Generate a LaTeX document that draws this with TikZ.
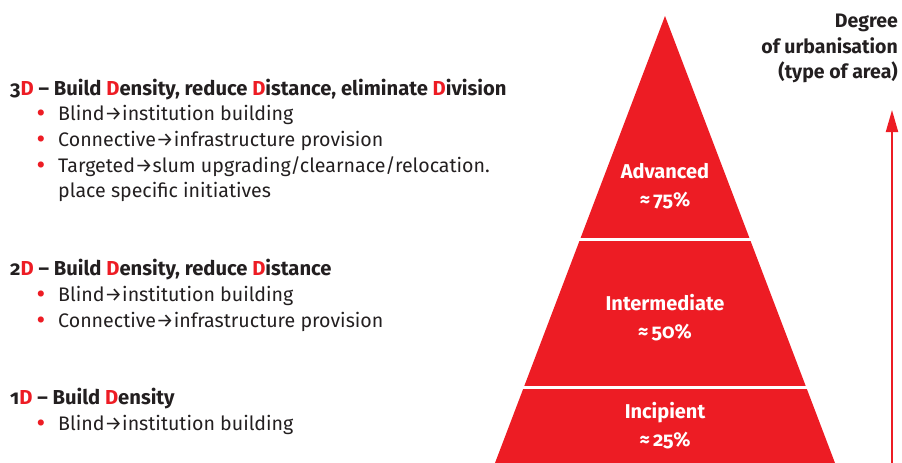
\documentclass[tikz,border=0pt]{standalone}
\usepackage{fontspec}
\setmainfont{Fira Sans}[Numbers=OldStyle]
\usetikzlibrary{arrows.meta}
\definecolor{pred}{HTML}{ED1C24}
\definecolor{ink}{HTML}{231F20}
\newcommand{\RD}{\textcolor{pred}{D}}
\begin{document}
\begin{tikzpicture}[x=1pt,y=-1pt,
  head/.style={anchor=base west, font=\fontsize{20.2}{24}\selectfont\bfseries, text=ink, inner sep=0},
  item/.style={anchor=base west, font=\fontsize{19.6}{24}\selectfont, text=ink, inner sep=0},
  bul/.style={anchor=base west, font=\fontsize{22}{24}\selectfont\bfseries, text=pred, inner sep=0},
  lvl/.style={align=center, font=\fontsize{20}{28}\selectfont\bfseries, text=white, inner sep=0},
  sep/.style={white, line width=3pt}]
\useasboundingbox (0,0) rectangle (902,463);
% left texts
\node[head] (h3) at (10,95) {3\RD{} – Build \RD{}ensity, reduce \RD{}istance, eliminate \RD{}ivision};
\node[bul] (b31) at (37,120) {•};
\node[item] (t31) at (58,120) {Blind→institution building};
\node[bul] (b32) at (37,146) {•};
\node[item] (t32) at (58,146) {Connective→infrastructure provision};
\node[bul] (b33) at (37,172) {•};
\node[item] (t33) at (58,172) {Targeted→slum upgrading/clearnace/relocation.};
\node[item] (t34) at (58,197) {place specific initiatives};
\node[head] (h2) at (10,275) {2\RD{} – Build \RD{}ensity, reduce \RD{}istance};
\node[bul] (b21) at (37,301) {•};
\node[item] (t21) at (58,301) {Blind→institution building};
\node[bul] (b22) at (37,327) {•};
\node[item] (t22) at (58,327) {Connective→infrastructure provision};
\node[head] (h1) at (10,404) {1\RD{} – Build \RD{}ensity};
\node[bul] (b11) at (37,430) {•};
\node[item] (t11) at (58,430) {Blind→institution building};
% pyramid
\fill[pred] (665,16) -- (835,463) -- (495,463) -- cycle;
\draw[sep] (570,239) -- (760,239);
\draw[sep] (515,387) -- (815,387);
\node[lvl] (adv) at (665,186) {Advanced\\≈\,75\%};
\node[lvl] (int) at (665,318) {Intermediate\\≈\,50\%};
\node[lvl] (inc) at (665,426) {Incipient\\≈\,25\%};
% axis
\node[anchor=north east, align=right, font=\fontsize{19.5}{25.5}\selectfont\bfseries, text=ink, inner sep=0] (deg) at (898,14) {Degree\\of urbanisation\\(type of area)};
\coordinate (a0) at (892,463);
\coordinate (a1) at (892,110);
\draw[pred, line width=2pt, -{Triangle[length=22pt,width=12pt]}] (a0) -- (a1);
\end{tikzpicture}
\end{document}
